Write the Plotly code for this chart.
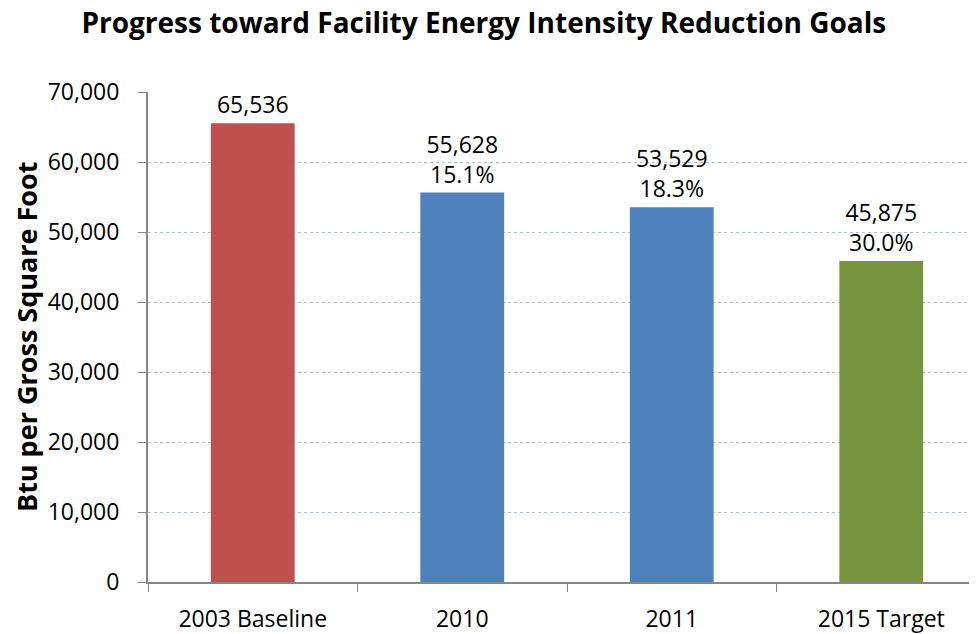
import plotly.graph_objects as go

categories = ["2003 Baseline", "2010", "2011", "2015 Target"]
btu_values = [65536, 55628, 53529, 45875]
reduction_labels = ["", "15.1%", "18.3%", "30.0%"]
bar_colors = ["#C0504D", "#4F81BD", "#4F81BD", "#77933C"]

labels = []
for v, p in zip(btu_values, reduction_labels):
    txt = f"{v:,}"
    if p:
        txt += "<br>" + p
    labels.append(txt)

# la página html deja 8px de margen en el body, así que se compensa aquí
fig = go.Figure(go.Bar(
    x=categories,
    y=btu_values,
    marker=dict(color=bar_colors, line=dict(width=0)),
    width=0.4,
    text=labels,
    textposition="outside",
    textfont=dict(size=23, color="black"),
    cliponaxis=False,
))

fig.update_layout(
    width=969,
    height=626,
    margin=dict(l=140, r=0, t=84, b=50),
    paper_bgcolor="white",
    plot_bgcolor="white",
    font=dict(family="Open Sans, Noto Sans, sans-serif", color="black"),
    showlegend=False,
    title=dict(
        text="<b>Progress toward Facility Energy Intensity Reduction Goals</b>",
        x=0.491, xanchor="center", y=0.976, yanchor="middle",
        font=dict(size=28, color="black"),
    ),
    xaxis=dict(
        range=[-0.5, 3.457],
        showline=True, linecolor="#868686", linewidth=2,
        ticks="outside", tickson="boundaries", ticklen=8, tickcolor="#868686",
        tickfont=dict(size=23),
        ticklabelstandoff=15,
        showgrid=False,
    ),
    yaxis=dict(
        range=[0, 70000],
        tickvals=[0, 10000, 20000, 30000, 40000, 50000, 60000, 70000],
        tickformat=",",
        showline=True, linecolor="#868686", linewidth=2,
        ticks="outside", ticklen=8, tickcolor="#868686",
        tickfont=dict(size=23),
        ticklabelstandoff=14,
        showgrid=True, gridcolor="#A7BFDE", gridwidth=1, griddash="dot",
        zeroline=False,
        automargin=False,
    ),
    annotations=[dict(
        text="<b>Btu per Gross Square Foot</b>",
        xref="paper", yref="paper", x=0, y=0.5,
        xanchor="center", yanchor="middle",
        xshift=-122, textangle=-90,
        showarrow=False, font=dict(size=27, color="black"),
    )],
)

fig.write_html("out.html")
